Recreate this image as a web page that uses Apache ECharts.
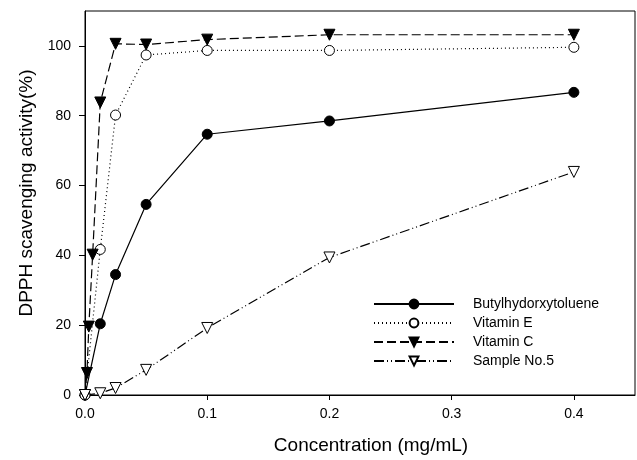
<!DOCTYPE html>
<html>
<head>
<meta charset="utf-8">
<script src="https://cdn.jsdelivr.net/npm/echarts@6/dist/echarts.min.js"></script>
<style>
  html, body { margin: 0; padding: 0; background: #fff; }
  #chart { width: 637px; height: 460px; }
</style>
</head>
<body>
<div id="chart"></div>
<script>
// concentration (mg/mL) for each series
const concBHT = [0, 0.0125, 0.025, 0.05, 0.1, 0.2, 0.4];
const concVitE = [0, 0.0125, 0.025, 0.05, 0.1, 0.2, 0.4];
const concVitC = [0, 0.0016, 0.003125, 0.00625, 0.0125, 0.025, 0.05, 0.1, 0.2, 0.4];
const concSample = [0, 0.0125, 0.025, 0.05, 0.1, 0.2, 0.4];

// DPPH scavenging activity (%)
const actBHT = [0, 20.4, 34.5, 54.6, 74.7, 78.5, 86.7];
const actVitE = [0, 41.7, 80.2, 97.4, 98.7, 98.7, 99.6];
const actVitC = [0, 6.3, 19.6, 40.2, 83.8, 100.6, 100.4, 101.8, 103.2, 103.2];
const actSample = [0, 0.5, 2.0, 7.2, 19.2, 39.4, 63.9];

const xTicks = [0, 0.1, 0.2, 0.3, 0.4];
const yTicks = [0, 20, 40, 60, 80, 100];

const names = ['Butylhydorxytoluene', 'Vitamin E', 'Vitamin C', 'Sample No.5'];

function pairs(xs, ys) {
    return xs.map((x, i) => [x, ys[i]]);
}

const font = 'Liberation Sans, Arial, sans-serif';
let myChart = echarts.init(document.getElementById('chart'));

//每条线的样式
function lineSeries(name, data, dash, symbol, filled, rotate) {
    return {
        name: name,
        type: 'line',
        data: data,
        symbol: symbol,
        symbolSize: symbol === 'circle' ? 10 : 11,
        symbolRotate: rotate,
        showAllSymbol: true,
        lineStyle: { color: '#000', width: 1.2, type: dash },
        itemStyle: { color: filled ? '#000' : '#fff', borderColor: '#000', borderWidth: 1 },
        emphasis: { disabled: true }
    };
}

let options = {
    animation: false,
    grid: {
        left: 85, top: 11, right: 2, bottom: 65,
        show: true, borderColor: '#000', borderWidth: 1
    },
    legend: {
        orient: 'vertical',
        left: 368, top: 292,
        itemWidth: 80, itemHeight: 11, itemGap: 5,
        textStyle: { fontFamily: font, fontSize: 14, color: '#000', padding: [0, 0, 0, 14] },
        data: names
    },
    xAxis: {
        type: 'value',
        min: 0, max: 0.45, interval: 0.1,
        name: 'Concentration (mg/mL)',
        nameLocation: 'middle',
        nameGap: 41,
        nameTextStyle: { fontFamily: font, fontSize: 19, color: '#000', padding: [0, 0, 0, 22] },
        axisLine: { lineStyle: { color: '#000', width: 1 } },
        axisTick: { show: true, length: 5, lineStyle: { color: '#000' }, customValues: xTicks },
        axisLabel: {
            fontFamily: font, fontSize: 14, color: '#000', margin: 12,
            customValues: xTicks,
            formatter: v => v > 0.41 ? '' : v.toFixed(1)
        },
        splitLine: { show: false }
    },
    yAxis: {
        type: 'value',
        min: 0, max: 110, interval: 20,
        name: 'DPPH scavenging activity(%)',
        nameLocation: 'middle',
        nameGap: 43,
        nameTextStyle: { fontFamily: font, fontSize: 19, color: '#000', padding: [0, 0, 0, 20] },
        axisLine: { show: true, lineStyle: { color: '#000', width: 1 } },
        axisTick: { show: true, length: 6, lineStyle: { color: '#000' }, customValues: yTicks },
        axisLabel: {
            fontFamily: font, fontSize: 14, color: '#000', margin: 14,
            customValues: yTicks,
            formatter: v => v > 101 ? '' : String(v)
        },
        splitLine: { show: false }
    },
    series: [
        lineSeries(names[0], pairs(concBHT, actBHT), 'solid', 'circle', true, 0),
        lineSeries(names[1], pairs(concVitE, actVitE), [1, 3], 'circle', false, 0),
        lineSeries(names[2], pairs(concVitC, actVitC), [9, 4], 'triangle', true, 180),
        lineSeries(names[3], pairs(concSample, actSample), [10, 3, 1, 3, 1, 3], 'triangle', false, 180)
    ]
};

myChart.setOption(options);
</script>
</body>
</html>
